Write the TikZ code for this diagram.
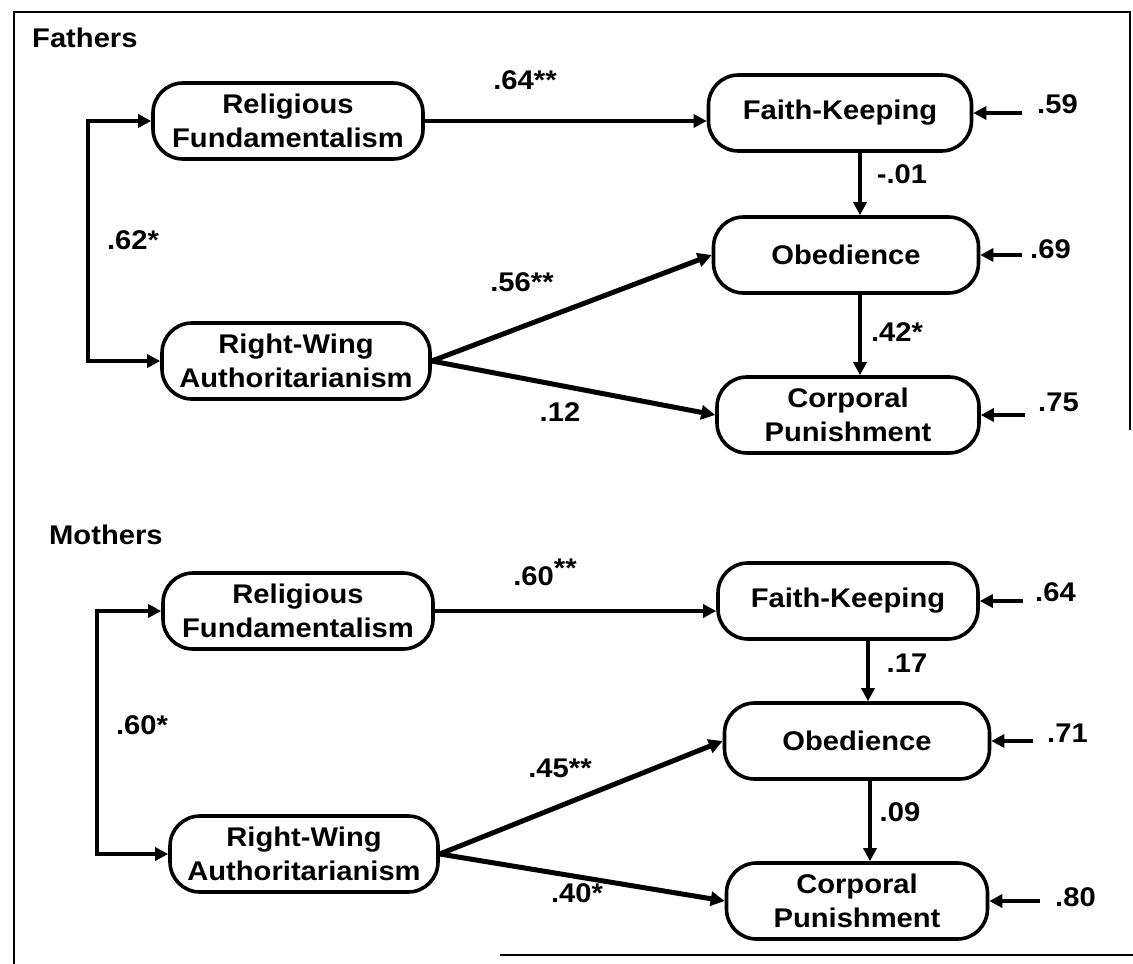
\documentclass[tikz,border=0pt]{standalone}
\usepackage{fontspec}
\setmainfont{Liberation Sans}[FakeStretch=1.08]
\usetikzlibrary{arrows.meta}
\newcommand\diagfont{\fontsize{27}{34}\selectfont\bfseries}
\tikzset{
  box/.style={draw, line width=3.6pt, rounded corners=30pt, minimum height=76pt,
    align=center, font=\diagfont, inner sep=0pt},
  lbl/.style={font=\diagfont, inner sep=0pt},
  arr/.style={line width=3.2pt, -{Triangle[length=13pt,width=13pt]}},
  harr/.style={line width=5pt, -{Triangle[length=14pt,width=14pt]}},
  barr/.style={line width=3.4pt, {Triangle[length=13pt,width=13pt]}-{Triangle[length=13pt,width=13pt]}},
  frame/.style={line width=2.8pt}
}
\begin{document}
\begin{tikzpicture}[x=1pt,y=-1pt]
\useasboundingbox (0,0) rectangle (1133,964);
% frame
\coordinate (f1) at (14,964);
\coordinate (f2) at (14,12);
\coordinate (f3) at (1130,12);
\coordinate (f4) at (1130,430);
\coordinate (f5) at (500,955);
\coordinate (f6) at (1133,955);
\draw[frame] (f1) -- (f2) -- (f3) -- (f4);
\draw[frame] (f5) -- (f6);

% ---------------- Fathers ----------------
\node[lbl, anchor=west] (tF) at (32,38) {Fathers};
\node[box, minimum width=270pt] (RF1) at (288,121) {Religious\\Fundamentalism};
\node[box, minimum width=268pt] (RW1) at (296,361) {Right-Wing\\Authoritarianism};
\node[box, minimum width=263pt] (FK1) at (840,113) {Faith-Keeping};
\node[box, minimum width=265pt] (OB1) at (846,255) {Obedience};
\node[box, minimum width=262pt] (CP1) at (848,415) {Corporal\\Punishment};

\coordinate (b1) at (88,0);
\draw[barr] (RF1.west) -- (RF1.west -| b1) -- (RW1.west -| b1) -- (RW1.west);
\draw[arr] (RF1.east) -- (RF1.east -| FK1.west);
\coordinate (v1) at (860,0);
\draw[arr] (FK1.south -| v1) -- (OB1.north -| v1);
\draw[arr] (OB1.south -| v1) -- (CP1.north -| v1);
\draw[harr] (RW1.east) -- (OB1.west);
\draw[harr] (RW1.east) -- (CP1.west);

\coordinate (rf1) at (1022,113);
\coordinate (ro1) at (1022,255);
\coordinate (rc1) at (1025,415);
\draw[arr] (rf1) -- (FK1.east);
\draw[arr] (ro1) -- (OB1.east);
\draw[arr] (rc1) -- (CP1.east);

\node[lbl] (l62) at (133,240) {.62*};
\node[lbl] (l64) at (525,80) {.64**};
\node[lbl] (l56) at (522,282) {.56**};
\node[lbl] (l12) at (560,412) {.12};
\node[lbl] (l01) at (902,174) {-.01};
\node[lbl] (l42) at (897,332) {.42*};
\node[lbl, anchor=west] (l59) at (1037,104) {.59};
\node[lbl, anchor=west] (l69) at (1030,249) {.69};
\node[lbl, anchor=west] (l75) at (1038,402) {.75};

% ---------------- Mothers ----------------
\node[lbl, anchor=west] (tM) at (49,535) {Mothers};
\node[box, minimum width=270pt] (RF2) at (298,611) {Religious\\Fundamentalism};
\node[box, minimum width=268pt] (RW2) at (304,854) {Right-Wing\\Authoritarianism};
\node[box, minimum width=260pt] (FK2) at (848,601) {Faith-Keeping};
\node[box, minimum width=265pt] (OB2) at (857,741) {Obedience};
\node[box, minimum width=261pt] (CP2) at (857,901) {Corporal\\Punishment};

\coordinate (b2) at (97,0);
\draw[barr] (RF2.west) -- (RF2.west -| b2) -- (RW2.west -| b2) -- (RW2.west);
\draw[arr] (RF2.east) -- (RF2.east -| FK2.west);
\coordinate (v2) at (868,0);
\coordinate (v3) at (870,0);
\draw[arr] (FK2.south -| v2) -- (OB2.north -| v2);
\draw[arr] (OB2.south -| v3) -- (CP2.north -| v3);
\draw[harr] (RW2.east) -- (OB2.west);
\draw[harr] (RW2.east) -- (CP2.west);

\coordinate (rf2) at (1023,601);
\coordinate (ro2) at (1033,741);
\coordinate (rc2) at (1040,901);
\draw[arr] (rf2) -- (FK2.east);
\draw[arr] (ro2) -- (OB2.east);
\draw[arr] (rc2) -- (CP2.east);

\node[lbl] (l60a) at (142,725) {.60*};
\node[lbl] (l60b) at (545,572) {.60\raisebox{8pt}{**}};
\node[lbl] (l45) at (560,768) {.45**};
\node[lbl] (l40) at (577,893) {.40*};
\node[lbl] (l17) at (907,663) {.17};
\node[lbl] (l09) at (900,812) {.09};
\node[lbl, anchor=west] (l64m) at (1035,592) {.64};
\node[lbl, anchor=west] (l71) at (1047,733) {.71};
\node[lbl, anchor=west] (l80) at (1055,897) {.80};
\end{tikzpicture}
\end{document}
